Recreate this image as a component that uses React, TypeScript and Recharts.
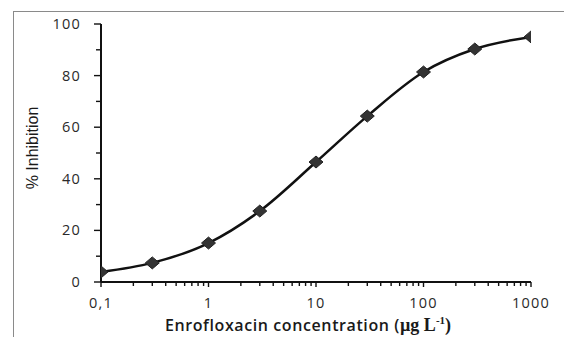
import { ComposedChart, Label, Line, XAxis, YAxis } from "recharts";

// Enrofloxacin concentration (µg/L) vs % inhibition
const concentrations = [0.1, 0.3, 1, 3, 10, 30, 100, 300, 1000];
const inhibition = [3.9, 7.4, 15.1, 27.5, 46.5, 64.3, 81.4, 90.3, 95];

const xMajorTicks = [0.1, 1, 10, 100, 1000];
const xTickLabels = ["0,1", "1", "10", "100", "1000"];
const xMinorTicks = [
	0.2, 0.3, 0.4, 0.5, 0.6, 0.7, 0.8, 0.9, 2, 3, 4, 5, 6, 7, 8, 9, 20, 30, 40,
	50, 60, 70, 80, 90, 200, 300, 400, 500, 600, 700, 800, 900,
];
const yTicks = [0, 10, 20, 30, 40, 50, 60, 70, 80, 90, 100];
const yLabelTicks = [0, 20, 40, 60, 80, 100];

const data = concentrations.map((c, i) => ({ conc: c, inh: inhibition[i] }));

const tickFont = {
	fontFamily: "'Open Sans', sans-serif",
	fontSize: 14.5,
	letterSpacing: 1.2,
	fill: "#2a2a2a",
};

// biome-ignore lint/suspicious/noExplicitAny: <recharts tick props>
const XTick = (props: any) => {
	const { x, y, payload } = props;
	const idx = xMajorTicks.indexOf(payload.value);
	const major = idx >= 0;
	return (
		<g>
			<line
				x1={x}
				x2={x}
				y1={y}
				y2={y + (major ? 5 : 4)}
				stroke="#111"
				strokeWidth={1.4}
			/>
			{major && (
				<text x={x} y={y + 26} textAnchor="middle" {...tickFont}>
					{xTickLabels[idx]}
				</text>
			)}
		</g>
	);
};

// biome-ignore lint/suspicious/noExplicitAny: <recharts tick props>
const YTick = (props: any) => {
	const { x, y, payload } = props;
	const major = yLabelTicks.includes(payload.value);
	return (
		<g>
			<line
				x1={x - (major ? 7 : 5)}
				x2={x}
				y1={y}
				y2={y}
				stroke="#111"
				strokeWidth={1.4}
			/>
			{major && (
				<text x={x - 20} y={y + 5} textAnchor="end" {...tickFont}>
					{payload.value}
				</text>
			)}
		</g>
	);
};

// biome-ignore lint/suspicious/noExplicitAny: <recharts dot props>
const Diamond = (props: any) => {
	const { cx, cy } = props;
	if (cx == null || cy == null) return null;
	return (
		<polygon
			points={`${cx - 7},${cy} ${cx},${cy - 6} ${cx + 7},${cy} ${cx},${cy + 6}`}
			fill="#333"
			stroke="#222"
			strokeWidth={1}
		/>
	);
};

// biome-ignore lint/suspicious/noExplicitAny: <label props>
const XTitle = (props: any) => {
	const { viewBox } = props;
	return (
		<text
			x={viewBox.x + viewBox.width / 2 - 8}
			y={viewBox.y + 49}
			textAnchor="middle"
			fill="#1a1a1a"
		>
			<tspan
				fontFamily="'Open Sans', sans-serif"
				fontWeight={600}
				fontSize={16}
				letterSpacing={0.6}
			>
				Enrofloxacin concentration (
			</tspan>
			<tspan fontFamily="'Liberation Serif', serif" fontSize={18} fontWeight={600}>
				µg L
			</tspan>
			<tspan fontFamily="'Liberation Serif', serif" fontSize={11} dy={-7} fontWeight={600}>
				-1
			</tspan>
			<tspan fontFamily="'Liberation Serif', serif" fontSize={18} dy={7} fontWeight={600}>
				)
			</tspan>
		</text>
	);
};

// biome-ignore lint/suspicious/noExplicitAny: <label props>
const YTitle = (props: any) => {
	const { viewBox } = props;
	const cx = viewBox.x + 17;
	const cy = viewBox.y + viewBox.height / 2 - 5;
	return (
		<text
			x={cx}
			y={cy}
			transform={`rotate(-90 ${cx} ${cy})`}
			textAnchor="middle"
			fontFamily="'Liberation Sans', sans-serif"
			fontSize={16}
			fill="#1a1a1a"
		>
			% Inhibition
		</text>
	);
};

export default function App() {
	return (
		<div
			style={{
				position: "absolute",
				left: 0,
				top: 0,
				width: 564,
				height: 337,
				overflow: "hidden",
				background: "#fff",
			}}
		>
			<div
				style={{
					position: "absolute",
					left: 13,
					top: 11,
					width: 560,
					height: 330,
					borderLeft: "1.5px solid #8a8a8a",
					borderTop: "1.5px solid #8a8a8a",
				}}
			/>
			<ComposedChart
				width={556}
				height={329}
				data={data}
				margin={{ top: 16, right: 33, bottom: 0, left: 13 }}
				style={{ position: "absolute", left: 8, top: 8 }}
			>
				<XAxis
					dataKey="conc"
					type="number"
					scale="log"
					domain={[0.1, 1000]}
					ticks={[...xMajorTicks, ...xMinorTicks]}
					allowDataOverflow
					height={55}
					tickSize={0}
					tickMargin={0}
					tickLine={false}
					tick={<XTick />}
					interval={0}
					axisLine={{ stroke: "#111", strokeWidth: 2 }}
				>
					<Label content={<XTitle />} />
				</XAxis>
				<YAxis
					type="number"
					domain={[0, 100]}
					ticks={yTicks}
					width={80}
					tickSize={0}
					tickMargin={0}
					tickLine={false}
					tick={<YTick />}
					interval={0}
					axisLine={{ stroke: "#111", strokeWidth: 2 }}
				>
					<Label content={<YTitle />} />
				</YAxis>
				<Line
					type="monotone"
					dataKey="inh"
					stroke="#111"
					strokeWidth={2.5}
					dot={<Diamond />}
					activeDot={false}
					isAnimationActive={false}
				/>
			</ComposedChart>
		</div>
	);
}
